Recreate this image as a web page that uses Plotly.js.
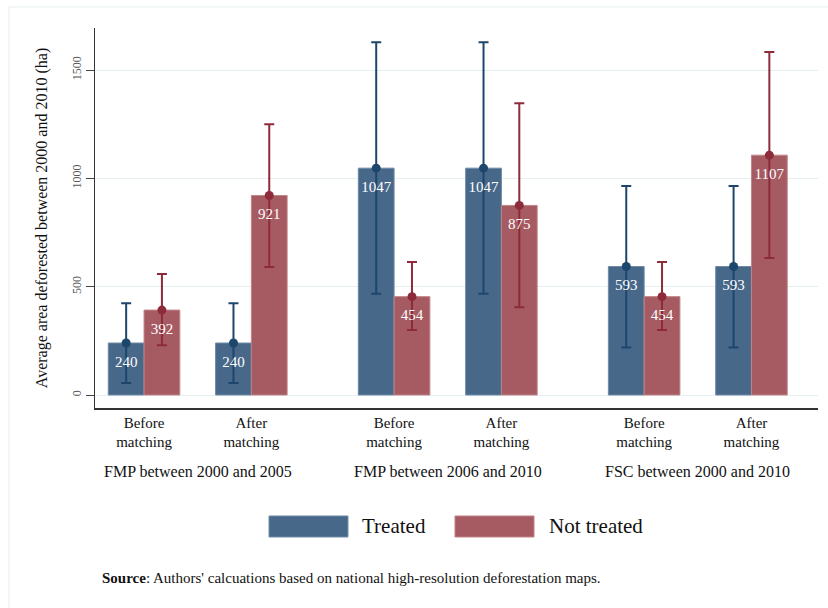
<!DOCTYPE html>
<html><head><meta charset="utf-8">
<script src="https://cdn.plot.ly/plotly-3.0.1.min.js"></script>
<style>html,body{margin:0;padding:0;background:#fff}#chart{width:828px;height:608px}</style>
</head><body><div id="chart"></div>
<script>
// ---- data ----
const categories = ["Before<br>matching", "After<br>matching", "Before<br>matching", "After<br>matching", "Before<br>matching", "After<br>matching"];
const groupLabels = ["FMP between 2000 and 2005", "FMP between 2006 and 2010", "FSC between 2000 and 2010"];
const treatedMean = [240, 240, 1047, 1047, 593, 593];
const treatedHi   = [423, 423, 1628, 1628, 965, 965];
const treatedLo   = [55, 55, 467, 467, 219, 219];
const notTreatedMean = [392, 921, 454, 875, 454, 1107];
const notTreatedHi   = [558, 1250, 614, 1347, 614, 1583];
const notTreatedLo   = [230, 591, 300, 405, 300, 632];
const yTicks = [0, 500, 1000, 1500];
const seriesNames = ["Treated", "Not treated"];
const sourceNote = "<b>Source</b>: Authors' calcuations based on national high-resolution deforestation maps.";
const yTitle = "Average area deforested between 2000 and 2010 (ha)";

// ---- layout helpers ----
const GROUP_STEP = 2.33, BAR_W = 1/3;
const pos = categories.map((c, i) => Math.floor(i / 2) * GROUP_STEP + (i % 2));
const groupCenters = groupLabels.map((g, k) => k * GROUP_STEP + 0.5);
const serif = "Liberation Serif, Times New Roman, serif";
const cT = "#48688a", cTdark = "#1d466c";
const cN = "#a65b62", cNdark = "#8e2b3a";

function barTrace(mean, offset, color, edge, name) {
  return {type: "bar", x: pos, y: mean, width: BAR_W, offset: offset, name: name,
    marker: {color: color, line: {color: edge, width: 1}}, showlegend: false, hoverinfo: "skip"};
}
function ciTrace(mean, hi, lo, dx, color) {
  return {type: "scatter", mode: "markers", x: pos.map(p => p + dx), y: mean,
    marker: {size: 9, color: color},
    error_y: {type: "data", symmetric: false, array: hi.map((h, i) => h - mean[i]),
      arrayminus: lo.map((l, i) => mean[i] - l), color: color, thickness: 2, width: 5},
    showlegend: false, hoverinfo: "skip"};
}
function labelTrace(mean, dx) {
  return {type: "scatter", mode: "markers+text", x: pos.map(p => p + dx), y: mean,
    text: mean.map(v => String(v)), textposition: "bottom center",
    textfont: {family: serif, size: 15, color: "#ffffff"},
    marker: {size: 18, color: "rgba(0,0,0,0)"}, showlegend: false, hoverinfo: "skip"};
}

const data = [
  barTrace(treatedMean, -BAR_W, cT, "#6f8aa6", seriesNames[0]),
  barTrace(notTreatedMean, 0, cN, "#c08488", seriesNames[1]),
  ciTrace(treatedMean, treatedHi, treatedLo, -BAR_W / 2, cTdark),
  ciTrace(notTreatedMean, notTreatedHi, notTreatedLo, BAR_W / 2, cNdark),
  labelTrace(treatedMean, -BAR_W / 2),
  labelTrace(notTreatedMean, BAR_W / 2)
];

// legend swatches & texts (paper coords)
const shapes = [
  {type: "rect", xref: "paper", yref: "paper", x0: 0.2407, x1: 0.3499, y0: -0.3395, y1: -0.2842,
    fillcolor: cT, line: {color: "#6f8aa6", width: 1}},
  {type: "rect", xref: "paper", yref: "paper", x0: 0.4979, x1: 0.6072, y0: -0.3395, y1: -0.2842,
    fillcolor: cN, line: {color: "#c08488", width: 1}},
  // outer faint frame
  {type: "line", xref: "paper", yref: "paper", x0: -0.119, x1: 1.02, y0: 1.0553, y1: 1.0553,
    line: {color: "#e6eef0", width: 1}},
  {type: "line", xref: "paper", yref: "paper", x0: -0.119, x1: -0.119, y0: 1.0553, y1: -0.55,
    line: {color: "#e6eef0", width: 1}}
];

const annotations = [
  {xref: "paper", yref: "paper", x: 0.3665, y: -0.3118, xanchor: "left", yanchor: "middle",
    text: seriesNames[0], showarrow: false, font: {family: serif, size: 21, color: "#111"}},
  {xref: "paper", yref: "paper", x: 0.6252, y: -0.3118, xanchor: "left", yanchor: "middle",
    text: seriesNames[1], showarrow: false, font: {family: serif, size: 21, color: "#111"}},
  {xref: "paper", yref: "paper", x: 0.0069, y: -0.447, xanchor: "left", yanchor: "middle",
    text: sourceNote, showarrow: false, font: {family: serif, size: 15, color: "#111"}}
].concat(groupLabels.map((g, k) => ({xref: "x", yref: "paper", x: groupCenters[k], y: -0.168,
    xanchor: "center", yanchor: "middle", text: g, showarrow: false,
    font: {family: serif, size: 16, color: "#111"}})));

const layout = {
  width: 828, height: 608,
  margin: {l: 95, r: 10, t: 28, b: 200},
  paper_bgcolor: "#ffffff", plot_bgcolor: "#ffffff",
  barmode: "overlay", hovermode: false, showlegend: false,
  font: {family: serif, color: "#111"},
  xaxis: {range: [-0.457, 6.28], tickvals: pos, ticktext: categories, ticks: "",
    showgrid: false, zeroline: false, showline: true, linecolor: "#333", linewidth: 1.5,
    tickfont: {family: serif, size: 15, color: "#111"}, fixedrange: true},
  yaxis: {range: [-60, 1694], tickvals: yTicks, ticktext: yTicks.map(String), ticks: "outside",
    ticklen: 8, tickcolor: "#444", tickwidth: 1, tickangle: -90,
    tickfont: {family: serif, size: 12, color: "#555"},
    showgrid: true, gridcolor: "#e6eff1", gridwidth: 1, zeroline: true, zerolinecolor: "#e6eff1",
    showline: true, linecolor: "#333", linewidth: 1.5,
    title: {text: yTitle, font: {family: serif, size: 16, color: "#111"}, standoff: 18},
    fixedrange: true},
  shapes: shapes, annotations: annotations
};

Plotly.newPlot("chart", data, layout, {displayModeBar: false, staticPlot: true});
</script></body></html>
